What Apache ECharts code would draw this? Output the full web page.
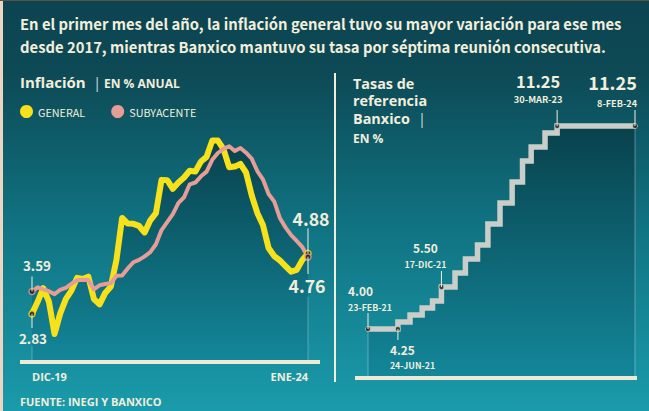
<!DOCTYPE html>
<html><head><meta charset="utf-8">
<script src="https://cdn.jsdelivr.net/npm/echarts@6/dist/echarts.min.js"></script>
<style>html,body{margin:0;padding:0;background:#0e4a55;}#c{width:649px;height:411px;}</style>
</head><body><div id="c"></div>
<script>
// ---- DATA ----
const months = ['DIC-19','ENE-20','FEB-20','MAR-20','ABR-20','MAY-20','JUN-20','JUL-20','AGO-20','SEP-20','OCT-20','NOV-20','DIC-20',
  'ENE-21','FEB-21','MAR-21','ABR-21','MAY-21','JUN-21','JUL-21','AGO-21','SEP-21','OCT-21','NOV-21','DIC-21',
  'ENE-22','FEB-22','MAR-22','ABR-22','MAY-22','JUN-22','JUL-22','AGO-22','SEP-22','OCT-22','NOV-22','DIC-22',
  'ENE-23','FEB-23','MAR-23','ABR-23','MAY-23','JUN-23','JUL-23','AGO-23','SEP-23','OCT-23','NOV-23','DIC-23','ENE-24'];
const general = [2.83,3.24,3.70,3.25,2.15,2.84,3.33,3.62,4.05,4.01,4.09,3.33,3.15,
  3.54,3.76,4.67,6.08,5.89,5.88,5.81,5.59,6.00,6.24,7.37,7.36,
  7.07,7.28,7.45,7.68,7.65,7.99,8.15,8.70,8.70,8.41,7.80,7.82,
  7.91,7.62,6.85,6.25,5.84,5.06,4.79,4.64,4.45,4.26,4.32,4.66,4.88];
const core = [3.59,3.73,3.66,3.60,3.50,3.64,3.71,3.85,3.97,3.99,3.98,3.66,3.80,
  3.84,3.87,4.12,4.13,4.37,4.58,4.66,4.78,4.92,5.19,5.67,5.94,
  6.21,6.59,6.78,7.22,7.28,7.49,7.65,8.05,8.28,8.42,8.51,8.35,
  8.45,8.29,8.09,7.67,7.39,6.89,6.64,6.08,5.76,5.50,5.30,5.09,4.76];
const seriesNames = ['GENERAL','SUBYACENTE'];
const rateDates = ['2021-02-23','2021-06-24','2021-08-12','2021-09-30','2021-11-11','2021-12-17',
  '2022-02-10','2022-03-24','2022-05-12','2022-06-23','2022-08-11','2022-09-29','2022-11-10','2022-12-15',
  '2023-02-09','2023-03-30','2024-02-08'];
const rateValues = [4.00,4.25,4.50,4.75,5.00,5.50,6.00,6.50,7.00,7.75,8.50,9.25,10.00,10.50,11.00,11.25,11.25];
const rateNoteDates = ['2021-02-23','2021-06-24','2021-12-17','2023-03-30','2024-02-08'];
const rateNoteLevels = [4.00,4.00,5.50,11.25,11.25];
const rateNoteValues = ['4.00','4.25','5.50','11.25','11.25'];
const rateNoteLabels = ['23-FEB-21','24-JUN-21','17-DIC-21','30-MAR-23','8-FEB-24'];
const titleLines = ['En el primer mes del año, la inflación general tuvo su mayor variación para ese mes',
  'desde 2017, mientras Banxico mantuvo su tasa por séptima reunión consecutiva.'];
const leftHead = ['Inflación', 'EN % ANUAL'];
const rightHead = ['Tasas de', 'referencia', 'Banxico', 'EN %'];
const source = 'FUENTE: INEGI Y BANXICO';

// ---- STYLE ----
const COND = "'Noto Sans CJK SC','Noto Sans CJK JP',Roboto,sans-serif";
const GEO = "'Open Sans','Lato',sans-serif";
const CREAM = '#f2eedc';
const YEL = '#f7e11b', PINK = '#e59d95', STEP = '#c9cec8';
const toT = d => { const p = d.split('-').map(Number); return new Date(p[0], p[1]-1, p[2]).getTime(); };
const mctx = document.createElement('canvas').getContext('2d');
const fit = (text, family, width, weight='bold') => {
  mctx.font = weight + ' 100px ' + family;
  return Math.round(100 * width / mctx.measureText(text).width * 10) / 10;
};

const chart = echarts.init(document.getElementById('c'), null, {renderer: 'svg'});
const areaGrad = (y0, y1) => ({type:'linear', x:0, y:y0, x2:0, y2:y1, global:true,
  colorStops:[{offset:0, color:'#08414c'},{offset:1, color:'#13879a'}]});

const option = {
  animation: false,
  backgroundColor: {type:'linear', x:0, y:0, x2:0, y2:1, colorStops:[
    {offset:0, color:'#0c4450'},{offset:0.18, color:'#0d4a56'},{offset:0.55, color:'#107382'},{offset:1, color:'#1a9bab'}]},
  legend: {data: seriesNames, left: 15, top: 100, padding: 5, icon: 'circle', itemWidth: 13, itemHeight: 13, itemGap: 26,
    textStyle: {color: CREAM, fontFamily: COND, fontSize: fit('GENERAL', COND, 47, 'normal')}},
  grid: [
    {left: 32, top: 117, width: 276, height: 245, outerBoundsMode: 'none'},
    {left: 368, top: 105, width: 267, height: 273, outerBoundsMode: 'none'}
  ],
  xAxis: [
    {type:'category', gridIndex:0, data: months, boundaryGap:false,
      axisLine:{show:false}, axisTick:{show:false}, splitLine:{show:false},
      axisLabel:{interval: 0, formatter:(v,i)=> (i===0||i===months.length-1)? v : '',
        color: CREAM, fontFamily: GEO, fontWeight:'bold', fontSize: 11, margin: 9,
        alignMinLabel:'left', alignMaxLabel:'right', showMinLabel:true, showMaxLabel:true}},
    {type:'time', gridIndex:1, min: toT(rateDates[0]), max: toT(rateDates[rateDates.length-1]),
      axisLine:{show:false}, axisTick:{show:false}, splitLine:{show:false}, axisLabel:{show:false}}
  ],
  yAxis: [
    {type:'value', gridIndex:0, min:1.2, max:9.5, show:false, splitLine:{show:false}},
    {type:'value', gridIndex:1, min:2.25, max:12, show:false, splitLine:{show:false}}
  ],
  series: [
    {name:'areaG', type:'line', xAxisIndex:0, yAxisIndex:0, data: general, symbol:'none', z:1, silent:true,
      lineStyle:{width:0}, areaStyle:{color: areaGrad(140, 362), opacity:1}},
    {name:'areaC', type:'line', xAxisIndex:0, yAxisIndex:0, data: core, symbol:'none', z:1, silent:true,
      lineStyle:{width:0}, areaStyle:{color: areaGrad(140, 362), opacity:1}},
    {name: seriesNames[0], type:'line', xAxisIndex:0, yAxisIndex:0, data: general, showSymbol:false, symbol:'circle', z:3,
      itemStyle:{color: YEL}, lineStyle:{color: YEL, width: 6, join:'round'}},
    {name: seriesNames[1], type:'line', xAxisIndex:0, yAxisIndex:0, data: core, showSymbol:false, symbol:'circle', z:4,
      itemStyle:{color: PINK}, lineStyle:{color: PINK, width: 4, join:'round'}},
    {name:'ends', type:'scatter', xAxisIndex:0, yAxisIndex:0, z:6, symbolSize:6,
      data: [
        {value:[0, general[0]], itemStyle:{borderColor: YEL}},
        {value:[0, core[0]], itemStyle:{borderColor: PINK}},
        {value:[general.length-1, general[general.length-1]], itemStyle:{borderColor: YEL}},
        {value:[core.length-1, core[core.length-1]], itemStyle:{borderColor: PINK}}
      ], itemStyle:{color:'#161616', borderWidth:1.5}},
    {name:'tasa', type:'line', xAxisIndex:1, yAxisIndex:1, step:'end', symbol:'none', z:3,
      data: rateDates.map((d,i)=>[toT(d), rateValues[i]]),
      lineStyle:{color: STEP, width: 5.5, join:'miter', cap:'butt'},
      areaStyle:{color: areaGrad(126, 378), opacity:1}},
    {name:'tasaPts', type:'scatter', xAxisIndex:1, yAxisIndex:1, z:6, symbolSize:5,
      data: rateNoteDates.map((d,i)=>[toT(d), rateNoteLevels[i]]),
      itemStyle:{color:'#161616', borderColor: STEP, borderWidth:1}}
  ]
};
chart.setOption(option);

// ---- annotations positioned from data via the axes ----
const P0 = (x,y) => chart.convertToPixel({gridIndex:0}, [x,y]);
const P1 = (x,y) => chart.convertToPixel({gridIndex:1}, [x,y]);
const g = [];
const txt = (text, x, y, size, opts={}) => g.push({type:'text', x, y, z:20, style:Object.assign({
  text, fill: CREAM, fontSize: size, fontWeight:'bold', fontFamily: COND, align:'left', verticalAlign:'middle'}, opts)});
const vline = (x, y1, y2, color=CREAM, w=1) => g.push({type:'line', z:19, shape:{x1:x, y1, x2:x, y2}, style:{stroke:color, lineWidth:w}});
const pair = (x, vc, dc, val, date, vSize, dSize, align) => {
  txt(val, x, vc, vSize, {align});
  txt(date, x, dc, dSize, {align});
};

// background decorations
g.push({type:'rect', z:0, shape:{x:0, y:0, width:3, height:411}, style:{fill:'#ecd6c2'}});
g.push({type:'rect', z:0, shape:{x:0, y:0, width:649, height:1}, style:{fill:'#5b5244'}});
g.push({type:'rect', z:0, shape:{x:334, y:73, width:2, height:309}, style:{fill:CREAM}});
g.push({type:'rect', z:10, shape:{x:20, y:360, width:300, height:4}, style:{fill:'#efead6'}});
g.push({type:'rect', z:10, shape:{x:355, y:376, width:282, height:4}, style:{fill:'#efead6'}});

// title
const tSize = Math.min(17, fit(titleLines[0], COND, 602));
txt(titleLines[0], 20, 23, tSize);
txt(titleLines[1], 20, 46, tSize);

// left headers
txt(leftHead[0], 20, 82, 15, {fontFamily: GEO});
txt('|', 93, 82, 15, {fontFamily: GEO, fontWeight:'normal', fill:'#cfd9d6'});
txt(leftHead[1], 104, 83, 12, {fontFamily: GEO});
// right headers
const hS = 14.4;
txt(rightHead[0], 353, 83, hS, {fontFamily: GEO});
txt(rightHead[1], 353, 100.5, hS, {fontFamily: GEO});
txt(rightHead[2], 353, 118, hS, {fontFamily: GEO});
txt('|', 418, 118, hS, {fontFamily: GEO, fontWeight:'normal', fill:'#cfd9d6'});
txt(rightHead[3], 353, 138, 12, {fontFamily: GEO});
// source
txt(source, 20, 401, 11, {fontFamily: GEO});

// left endpoint labels
const last = general.length - 1;
const sSmall = fit('3.59', COND, 28), sBig = fit('4.76', COND, 37);
let p = P0(0, core[0]);
vline(p[0], p[1]-15, p[1]); txt(core[0].toFixed(2), p[0]+5, p[1]-26, sSmall, {align:'center'});
p = P0(0, general[0]);
vline(p[0], p[1], p[1]+14); txt(general[0].toFixed(2), p[0]+1, p[1]+24, sSmall, {align:'center'});
vline(p[0], p[1]+32, 360, 'rgba(200,230,232,0.35)');
p = P0(last, general[last]);
vline(p[0], p[1]-25, p[1]); txt(general[last].toFixed(2), p[0]+3, p[1]-35, sBig, {align:'center'});
p = P0(last, core[last]);
vline(p[0], p[1], p[1]+17); txt(core[last].toFixed(2), p[0]-1, p[1]+28, sBig, {align:'center'});
vline(p[0], p[1]+40, 360, 'rgba(200,230,232,0.35)');

// right labels
const vS = fit('4.00', COND, 25), dS = fit('23-FEB-21', COND, 44);
const v2S = 16.5, d2S = fit('30-MAR-23', COND, 49), bigS = fit('11.25', COND, 49), d3S = fit('8-FEB-24', COND, 40);
const rp = rateNoteDates.map((d,i)=>P1(toT(d), rateNoteLevels[i]));
// 4.00
vline(rp[0][0], rp[0][1]-16, rp[0][1]); vline(rp[0][0], rp[0][1]+3, 376, 'rgba(200,230,232,0.4)');
pair(rp[0][0]-20, rp[0][1]-39, rp[0][1]-22, rateNoteValues[0], rateNoteLabels[0], vS, dS, 'left');
// 4.25
vline(rp[1][0], rp[1][1], rp[1][1]+11);
pair(rp[1][0]-8, rp[1][1]+20, rp[1][1]+36.5, rateNoteValues[1], rateNoteLabels[1], vS, dS, 'left');
// 5.50
vline(rp[2][0], rp[2][1]-16, rp[2][1]);
pair(rp[2][0]-16, rp[2][1]-39.5, rp[2][1]-23, rateNoteValues[2], rateNoteLabels[2], vS, dS, 'center');
// 11.25 (30-MAR-23)
vline(rp[3][0], rp[3][1]-16, rp[3][1]);
pair(rp[3][0]-19, rp[3][1]-45, rp[3][1]-27.5, rateNoteValues[3], rateNoteLabels[3], v2S, d2S, 'center');
// 11.25 (8-FEB-24)
vline(rp[4][0], rp[4][1]-16, rp[4][1]); vline(rp[4][0], rp[4][1]+3, 376, 'rgba(200,230,232,0.4)');
pair(rp[4][0]+2, rp[4][1]-44, rp[4][1]-23, rateNoteValues[4], rateNoteLabels[4], bigS, d3S, 'right');

chart.setOption({graphic: {elements: g}});
</script></body></html>
